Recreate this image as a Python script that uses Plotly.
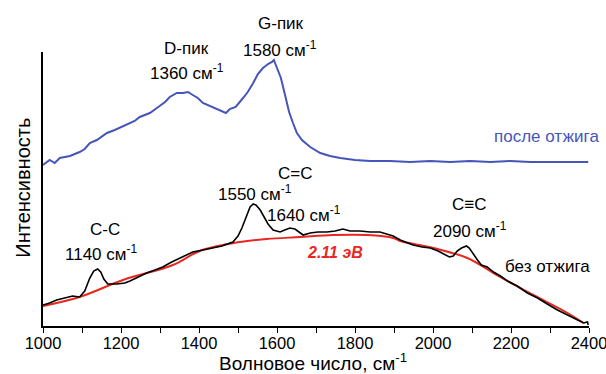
import plotly.graph_objects as go

# Spectrum after annealing (blue)
after_x = [1000, 1017, 1030, 1043, 1069, 1094, 1107, 1120, 1138, 1164, 1184, 1215, 1235, 1248,
           1274, 1292, 1313, 1325, 1343, 1359, 1372, 1384, 1397, 1410, 1428, 1454, 1469, 1479,
           1494, 1513, 1525, 1539, 1551, 1564, 1577, 1587, 1592, 1600, 1610, 1620, 1631, 1641,
           1651, 1664, 1685, 1711, 1736, 1762, 1800, 1839, 1890, 1941, 1993, 2044, 2095, 2147,
           2198, 2249, 2300, 2352, 2398]
after_y = [161, 166, 163, 168, 170, 174, 177, 183, 186, 193, 196, 201, 205, 209,
           213, 218, 224, 229, 233, 233, 234, 231, 228, 223, 220, 216, 213, 217,
           219, 228, 234, 243, 252, 258, 262, 264, 266, 258, 248, 232, 214, 203,
           193, 186, 179, 173, 170, 168, 166, 165, 165, 164, 165, 164, 165, 164,
           165, 164, 164, 164, 164]

# Spectrum without annealing (black)
before_x = [1000, 1017, 1035, 1056, 1076, 1094, 1107, 1120, 1130, 1140, 1148, 1156, 1166, 1189,
            1210, 1223, 1248, 1266, 1287, 1307, 1330, 1351, 1384, 1410, 1436, 1459, 1487, 1500,
            1510, 1520, 1531, 1539, 1546, 1557, 1567, 1577, 1590, 1608, 1620, 1633, 1646, 1656,
            1667, 1685, 1705, 1728, 1749, 1769, 1787, 1813, 1839, 1864, 1882, 1898, 1916, 1934,
            1949, 1972, 1993, 2013, 2029, 2042, 2052, 2062, 2073, 2086, 2093, 2103, 2114, 2124,
            2139, 2155, 2173, 2191, 2216, 2242, 2268, 2293, 2319, 2345, 2370, 2386, 2396, 2398]
before_y = [21, 23, 26, 28, 30, 29, 35, 48, 55, 57, 54, 47, 42, 42,
            43, 45, 50, 53, 56, 59, 64, 68, 74, 76, 78, 80, 84, 90,
            98, 109, 119, 122, 121, 116, 109, 102, 96, 94, 96, 98, 97, 94,
            91, 93, 94, 94, 95, 97, 95, 95, 94, 94, 92, 90, 86, 83,
            81, 79, 78, 75, 72, 69, 70, 75, 78, 80, 78, 72, 66, 61,
            59, 54, 50, 45, 40, 33, 28, 22, 16, 11, 6, 3, 4, 1]

# Luminescence background fit (red)
fit_x = [1000, 1094, 1205, 1333, 1402, 1505, 1574, 1659, 1744, 1831, 1898, 1916, 2001, 2088,
         2172, 2257, 2345, 2386]
fit_y = [20, 29, 46, 61, 75, 84, 87, 89, 91, 91, 88, 85, 78, 68, 49, 31, 13, 3]

x_ticks = [1000, 1200, 1400, 1600, 1800, 2000, 2200, 2400]
Y_MAX = 274

FONT = "Liberation Sans, Arial, sans-serif"
BLUE = "#4655b9"
RED = "#e8271f"

fig = go.Figure()
fig.add_trace(go.Scatter(x=after_x, y=after_y, mode="lines",
                         line=dict(color=BLUE, width=2), showlegend=False))
fig.add_trace(go.Scatter(x=fit_x, y=fit_y, mode="lines", line_shape="spline",
                         line=dict(color=RED, width=2), showlegend=False))
fig.add_trace(go.Scatter(x=before_x, y=before_y, mode="lines",
                         line=dict(color="black", width=1.6), showlegend=False))

labels = [
    ("G-пик", 1611, 302, "black", False),
    ("1580 см<sup>-1</sup>", 1608, 277, "black", False),
    ("D-пик", 1369, 278, "black", False),
    ("1360 см<sup>-1</sup>", 1369, 254, "black", False),
    ("после отжига", 2290, 190, BLUE, False),
    ("C=C", 1646, 153, "black", False),
    ("1550 см<sup>-1</sup>", 1543, 133, "black", False),
    ("1640 см<sup>-1</sup>", 1669, 112, "black", False),
    ("C-C", 1158, 97, "black", False),
    ("1140 см<sup>-1</sup>", 1148, 73, "black", False),
    ("C≡C", 2093, 121, "black", False),
    ("2090 см<sup>-1</sup>", 2096, 96, "black", False),
    ("без отжига", 2293, 60, "black", False),
    ("<b><i>2.11 эВ</i></b>", 1749, 73, RED, True),
]
for text, x, y, color, small in labels:
    fig.add_annotation(x=x, y=y / Y_MAX, xref="x", yref="paper", text=text,
                       showarrow=False, xanchor="center", yanchor="middle",
                       font=dict(family=FONT, size=16 if small else 17, color=color))

# axis titles
fig.add_annotation(x=0.495, y=-0.131, xref="paper", yref="paper",
                   text="Волновое число, см<sup>-1</sup>", showarrow=False,
                   xanchor="center", yanchor="middle",
                   font=dict(family=FONT, size=19, color="black"))
fig.add_annotation(x=-0.037, y=0.504, xref="paper", yref="paper",
                   text="Интенсивность", showarrow=False, textangle=-90,
                   xanchor="center", yanchor="middle",
                   font=dict(family=FONT, size=20, color="black"))

fig.update_xaxes(range=[1000, 2400], tickvals=x_ticks, ticks="outside", ticklen=5,
                 tickwidth=1.3, tickcolor="black", showline=True, linecolor="black",
                 linewidth=2, showgrid=False, zeroline=False, ticklabeloverflow="allow",
                 automargin=False, ticklabelstandoff=-4,
                 minor=dict(dtick=100, ticks="outside", ticklen=5, tickwidth=1.3,
                            tickcolor="black", showgrid=False),
                 tickfont=dict(family=FONT, size=16.5, color="black"))
fig.update_yaxes(range=[0, Y_MAX], showticklabels=False, ticks="", showline=True,
                 linecolor="black", linewidth=2, showgrid=False, zeroline=False,
                 automargin=False)

fig.update_layout(width=606, height=374, margin=dict(l=43, r=17, t=52, b=48),
                  plot_bgcolor="white", paper_bgcolor="white")

fig.write_html("out.html")
